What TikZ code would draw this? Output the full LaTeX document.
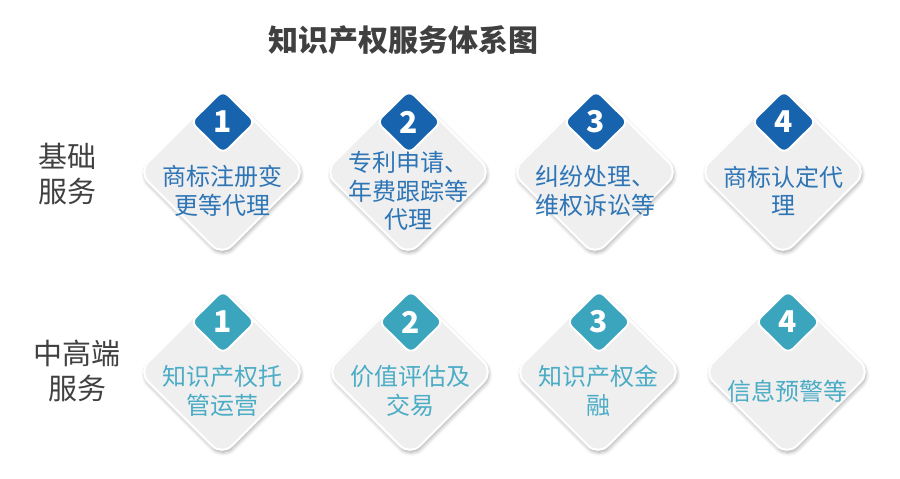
\documentclass[tikz,border=0pt]{standalone}
\usepackage{fontspec}
\setmainfont{Noto Sans CJK SC}
\usetikzlibrary{shapes.geometric,shadows.blur}
\definecolor{blueT}{HTML}{2E75B6}
\definecolor{blueN}{HTML}{1763AE}
\definecolor{tealT}{HTML}{4BACC6}
\definecolor{tealN}{HTML}{3BA5BE}
\definecolor{darkT}{HTML}{404040}
\definecolor{boxfill}{HTML}{EFEFEF}
\tikzset{
  bigd/.style={diamond, minimum width=168pt, minimum height=168pt, inner sep=0pt,
    rounded corners=14pt, fill=boxfill, draw=white, line width=2pt,
    blur shadow={shadow xshift=1pt, shadow yshift=-2.5pt, shadow blur steps=8, shadow blur radius=4pt, shadow opacity=35}},
  numd/.style={diamond, minimum width=65pt, minimum height=64pt, inner sep=0pt,
    rounded corners=7pt, draw=white, line width=2pt, text=white,
    font=\fontsize{30}{30}\selectfont\bfseries},
  itemtxt/.style={align=center, font=\fontsize{24}{28.5}\selectfont},
  rowlabel/.style={align=center, text=darkT, font=\fontsize{29}{35}\selectfont},
  titletxt/.style={text=darkT, font=\fontsize{30}{30}\selectfont\bfseries}
}
\begin{document}
\begin{tikzpicture}[x=1pt, y=-1pt]
\useasboundingbox (0,0) rectangle (900,479);
\node[titletxt] (title) at (403,40) {知识产权服务体系图};
\node[rowlabel] (lab1) at (67,174) {基础\\服务};
\node[rowlabel] (lab2) at (77,371) {中高端\\服务};
% top row
\foreach \i/\x/\t in {1/222/{商标注册变\\更等代理}, 2/408/{专利申请、\\年费跟踪等\\代理}, 3/595/{纠纷处理、\\维权诉讼等}, 4/783/{商标认定代\\理}} {
  \node[bigd] (tb\i) at (\x,172) {};
  \node[itemtxt, text=blueT] (tt\i) at (\x,191) {\t};
  \node[numd, fill=blueN] (tn\i) at (\x+1,122) {\i};
}
% bottom row
\foreach \i/\x/\t in {1/222/{知识产权托\\管运营}, 2/410/{价值评估及\\交易}, 3/598/{知识产权金\\融}, 4/787/{信息预警等}} {
  \node[bigd] (bb\i) at (\x,372) {};
  \node[itemtxt, text=tealT] (bt\i) at (\x,391) {\t};
  \node[numd, fill=tealN] (bn\i) at (\x+1,322) {\i};
}
\end{tikzpicture}
\end{document}
